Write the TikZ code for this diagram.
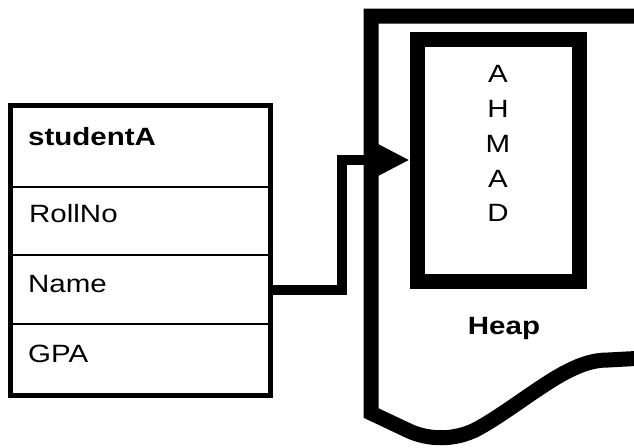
\documentclass[tikz,border=0pt]{standalone}
\usepackage{fontspec}
\setmainfont{Liberation Sans}[FakeStretch=1.18]
\usetikzlibrary{arrows.meta}
\begin{document}
\begin{tikzpicture}[x=1pt,y=-1pt,
  txt/.style={inner sep=0pt,font=\fontsize{25}{30}\selectfont},
  lbl/.style={txt,anchor=base west},
  row/.style={draw,line width=2pt,minimum width=260pt,outer sep=0pt,inner sep=0pt},
  heavy/.style={line width=15pt,line join=miter},
  link/.style={line width=10pt,line join=miter,-{Triangle[length=32pt,width=30pt]}}]
\useasboundingbox (0,0) rectangle (634,447);
% heap outline
\draw[heavy] (645,16) -- (371,16) -- (371,413) -- (407,430)
  .. controls (423,438) and (448,442) .. (473,431)
  .. controls (500,418) and (540,385) .. (568,371)
  .. controls (582,364) and (594,360) .. (608,360) -- (645,358);
% string object
\node[draw,line width=15pt,minimum width=162pt,minimum height=242pt] (str) at (498,160) {};
\foreach \c/\y [count=\i] in {A/82,H/117,M/152,A/187,D/221}
  \node[txt,anchor=base] (l\i) at (498,\y) {\c};
\node[txt,anchor=base,font=\fontsize{25}{30}\selectfont\bfseries] (heap) at (504,334) {Heap};
% student object
\node[row,minimum height=82pt] (title) at (140,146) {};
\node[row,minimum height=68pt] (roll) at (140,221) {};
\node[row,minimum height=69pt] (name) at (140,289.5) {};
\node[row,minimum height=71pt] (gpa) at (140,359.5) {};
\draw[line width=5pt] (title.north west) rectangle (gpa.south east);
\node[lbl,font=\fontsize{25}{30}\selectfont\bfseries] (tA) at (28,145) {studentA};
\node[lbl] (tR) at (29,222) {RollNo};
\node[lbl] (tN) at (28,292) {Name};
\node[lbl] (tG) at (28,362) {GPA};
% reference
\draw[link] (name.east) -- ++(72,0) |- (str.west);
\end{tikzpicture}
\end{document}
